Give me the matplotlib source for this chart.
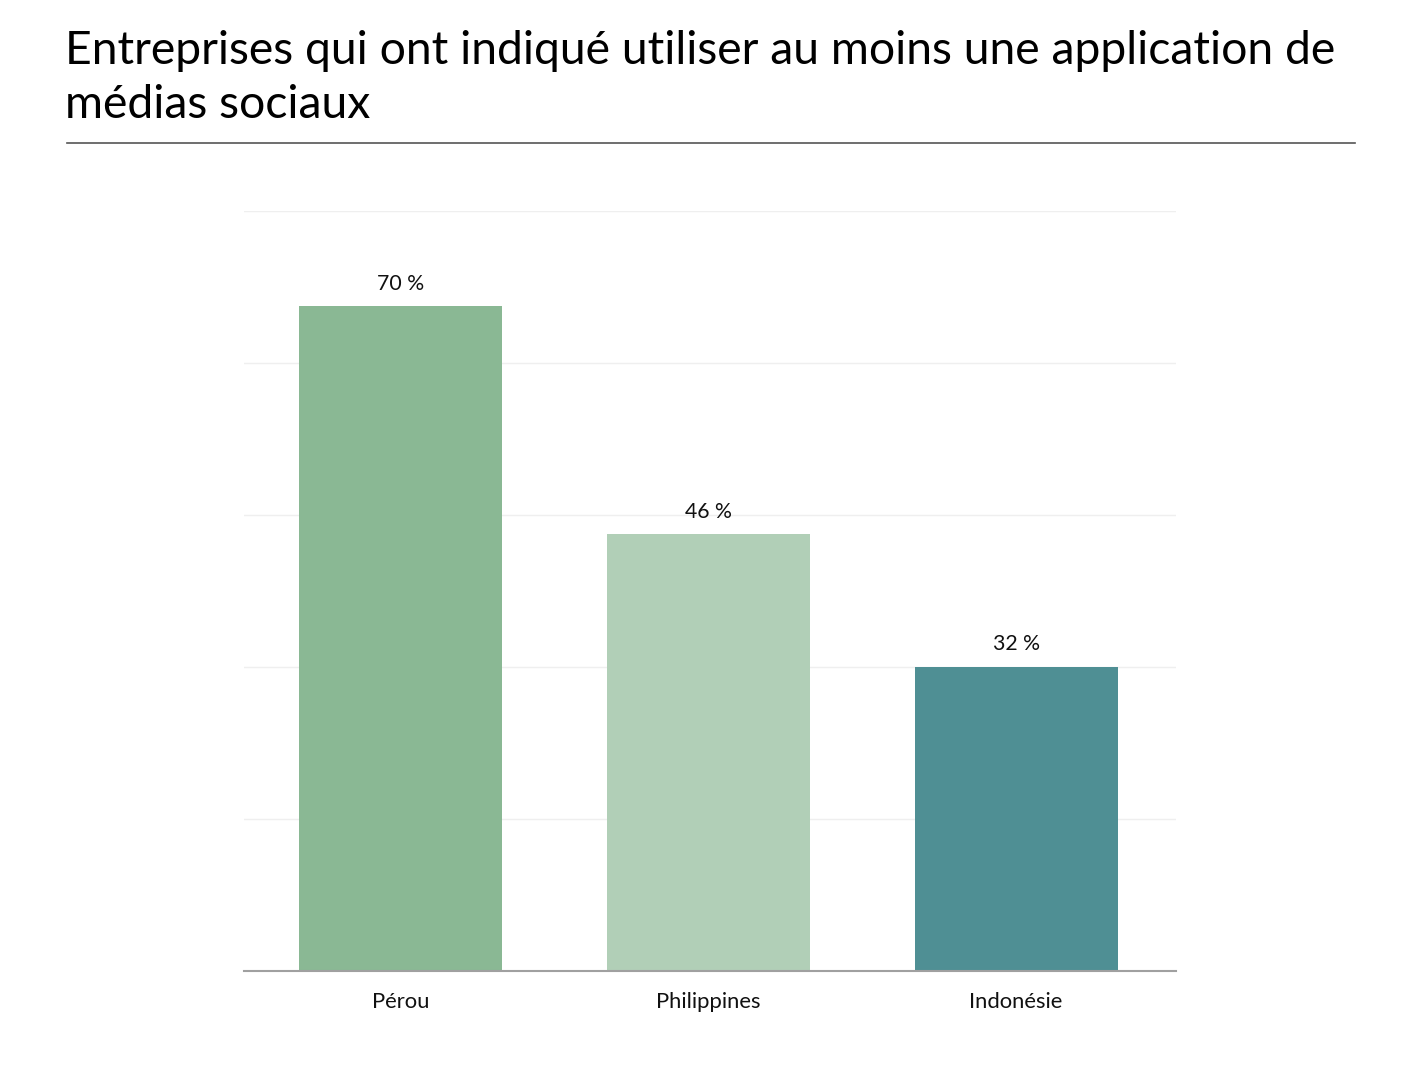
import matplotlib.pyplot as plt
from matplotlib.lines import Line2D

plt.rcParams['font.family'] = ['Lato', 'DejaVu Sans']

pays = ['Pérou', 'Philippines', 'Indonésie']
valeurs = [70, 46, 32]
couleurs = ['#8ab894', '#b1cfb7', '#4f8f94']
titre = "Entreprises qui ont indiqué utiliser au moins une application de\nmédias sociaux"

W, H = 1422, 1068
fig = plt.figure(figsize=(W / 100, H / 100), dpi=100)
ax = fig.add_axes([244 / W, 1 - 971 / H, (1176 - 244) / W, (971 - 211) / H])

x = range(len(pays))
ax.bar(x, valeurs, width=0.66, color=couleurs, zorder=2)
for i, v in enumerate(valeurs):
    ax.annotate(f'{v} %', (i, v), xytext=(0, 9), textcoords='offset points',
                ha='center', va='bottom', fontsize=15.3, color='#111111')

ax.set_xlim(-0.51, 2.52)
ax.set_ylim(0, 80)
ax.set_yticks([0, 16, 32, 48, 64, 80])
ax.set_yticklabels([])
ax.tick_params(axis='y', length=0)
ax.grid(axis='y', color='#efefef', linewidth=1, zorder=0)
ax.set_xticks(list(x))
ax.set_xticklabels(pays, fontsize=15.8, color='#111111')
ax.tick_params(axis='x', length=0, pad=15)
for s in ['top', 'right', 'left']:
    ax.spines[s].set_visible(False)
ax.spines['bottom'].set_color('#a0a0a0')
ax.spines['bottom'].set_linewidth(1.5)
ax.spines['bottom'].set_zorder(3)

fig.text(65 / W, 1 - 30 / H, titre, fontsize=33.3, va='top', ha='left',
         color='#000000', linespacing=1.36)
fig.add_artist(Line2D([67 / W, 1355 / W], [1 - 143 / H, 1 - 143 / H],
                      color='#555555', linewidth=1.2))

fig.savefig('out.png', dpi=100)
